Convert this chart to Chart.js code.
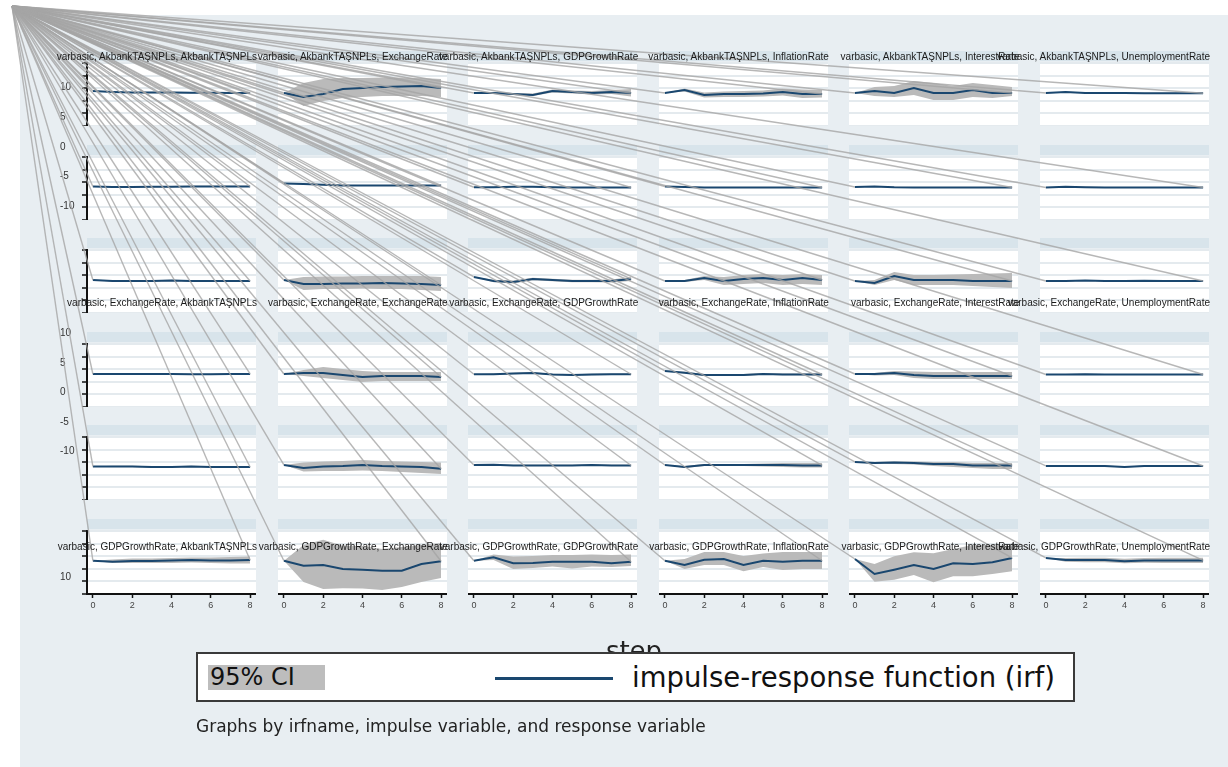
<!DOCTYPE html>
<html>
<head>
<meta charset="utf-8">
<script src="https://cdn.jsdelivr.net/npm/chart.js@4.4.1/dist/chart.umd.min.js"></script>
<style>
  html, body { margin: 0; padding: 0; background: #fff; }
  #page { position: relative; width: 1228px; height: 767px; overflow: hidden; background: #fff;
          font-family: "Liberation Sans", Arial, sans-serif; }
  #frame { position: absolute; left: 20px; top: 15px; right: 0; bottom: 0; background: #e8eef2; }
  canvas { position: absolute; }
  .ttl { position: absolute; font-size: 10px; line-height: 12px; color: #1a1a1a; white-space: nowrap; text-align: right; }
  #step { position: absolute; left: 584px; width: 100px; top: 638px; text-align: center;
          font-family: "DejaVu Sans", sans-serif; font-size: 26px; line-height: 26px; color: #222; }
  #legend { position: absolute; left: 196px; top: 652px; width: 875px; height: 46px;
            border: 2px solid #3a3a3a; background: #fff; }
  #ciKey { position: absolute; left: 10px; top: 11px; width: 117px; height: 25px; background: #bdbdbd; }
  #ciText { position: absolute; left: 12px; top: 9px; font-family: "DejaVu Sans", sans-serif;
            font-size: 24px; line-height: 28px; color: #111; white-space: nowrap; }
  #irfKey { position: absolute; left: 297px; top: 23px; width: 118px; height: 3px; background: #1a476f; }
  #irfText { position: absolute; left: 434px; top: 7px; font-family: "DejaVu Sans", sans-serif;
             font-size: 27.5px; line-height: 32px; color: #111; white-space: nowrap; }
  #note { position: absolute; left: 196px; top: 716px; font-family: "DejaVu Sans", sans-serif;
          font-size: 17px; line-height: 20px; color: #222; white-space: nowrap; }
</style>
</head>
<body>
<div id="page">
  <div id="frame"></div>
</div>
<script>
// ---- data -------------------------------------------------------------
const steps = [0, 1, 2, 3, 4, 5, 6, 7, 8];
const responseVars = ['AkbankTAŞNPLs', 'ExchangeRate', 'GDPGrowthRate', 'InflationRate', 'InterestRate', 'UnemploymentRate'];
const irfName = 'varbasic';
// impulse names printed above a panel row ('' = row printed without titles)
const rowImpulse = ['AkbankTAŞNPLs', '', '', 'ExchangeRate', '', 'GDPGrowthRate'];
const stepTicks = [0, 2, 4, 6, 8];
const leftTicksUpper = [10, 5, 0, -5, -10];
const leftTicksMiddle = [10, 5, 0, -5, -10];
const leftTicksLower = [10];

// row 1
const irf1 = [[0.28,0.2,0.15,0.15,0.15,0.13,0.13,0.12,0.12],[0.12,-0.2,0.04,0.44,0.52,0.6,0.63,0.67,0.52],[0.12,0.12,0.04,-0.04,0.28,0.2,0.12,0.2,0.12],[0.12,0.36,-0.04,0.04,0.04,0.08,0.2,0.04,0.04],[0.12,0.28,0.12,0.52,0.12,0.12,0.36,0.12,0.12],[0.12,0.2,0.12,0.12,0.12,0.1,0.1,0.1,0.1]];
const lo1  = [[0.28,0.15,0.1,0.09,0.09,0.07,0.07,0.06,0.06],[0.12,-0.91,-0.52,-0.28,-0.2,-0.12,-0.12,-0.12,-0.2],[0.12,0.08,-0.04,-0.12,0.16,0.08,0,0.04,-0.16],[0.12,0.24,-0.24,-0.2,-0.2,-0.16,-0.08,-0.28,-0.24],[0.12,-0.12,-0.2,-0.04,-0.44,-0.44,-0.2,-0.28,-0.12],[0.12,0.17,0.09,0.08,0.08,0.06,0.06,0.06,0.06]];
const hi1  = [[0.28,0.25,0.2,0.21,0.21,0.19,0.19,0.18,0.18],[0.12,0.91,1.23,1.31,1.31,1.35,1.35,1.31,1.23],[0.12,0.16,0.12,0.08,0.4,0.32,0.28,0.36,0.44],[0.12,0.48,0.16,0.24,0.28,0.32,0.48,0.4,0.36],[0.12,0.6,0.67,1.07,0.91,0.67,0.91,0.75,0.6],[0.12,0.23,0.15,0.16,0.16,0.14,0.14,0.14,0.14]];
// row 2
const irf2 = [[0.16,0.12,0.12,0.14,0.14,0.16,0.16,0.16,0.16],[0.4,0.36,0.3,0.24,0.24,0.24,0.24,0.24,0.24],[0.1,0.1,0.14,0.14,0.1,0.08,0.08,0.08,0.08],[0.16,0.12,0.08,0.08,0.08,0.08,0.08,0.08,0.08],[0.12,0.16,0.1,0.08,0.08,0.08,0.08,0.08,0.08],[0.08,0.14,0.1,0.08,0.08,0.08,0.08,0.08,0.08]];
const lo2  = [[0.16,0.08,0.07,0.09,0.09,0.11,0.11,0.11,0.11],[0.4,0.32,0.26,0.2,0.2,0.2,0.2,0.2,0.2],[0.1,0.06,0.1,0.1,0.06,0.04,0.04,0.04,0.04],[0.16,0.08,0.04,0.04,0.04,0.04,0.04,0.04,0.04],[0.12,0.12,0.06,0.04,0.04,0.04,0.04,0.04,0.04],[0.08,0.1,0.06,0.04,0.04,0.04,0.04,0.04,0.04]];
const hi2  = [[0.16,0.16,0.17,0.19,0.19,0.21,0.21,0.21,0.21],[0.4,0.4,0.34,0.28,0.28,0.28,0.28,0.28,0.28],[0.1,0.14,0.18,0.18,0.14,0.12,0.12,0.12,0.12],[0.16,0.16,0.12,0.12,0.12,0.12,0.12,0.12,0.12],[0.12,0.2,0.14,0.12,0.12,0.12,0.12,0.12,0.12],[0.08,0.18,0.14,0.12,0.12,0.12,0.12,0.12,0.12]];
// row 3
const irf3 = [[0.12,0.04,0.04,0.04,0.08,0.04,0.04,0.04,0.04],[0.12,-0.2,-0.2,-0.16,-0.16,-0.12,-0.16,-0.2,-0.28],[0.36,0.04,-0.04,0.2,0.12,0.04,0.04,0.04,0.2],[0.04,0.04,0.28,0.04,0.2,0.28,0.12,0.28,0.12],[0.04,-0.12,0.44,0.12,0.12,0.12,0.04,0.04,0.04],[0.04,0.04,0.08,0.04,0.04,0.06,0.04,0.04,0.04]];
const lo3  = [[0.12,-0.01,-0.01,-0.01,0.03,-0.01,-0.01,-0.01,-0.01],[0.12,-0.67,-0.6,-0.6,-0.56,-0.6,-0.6,-0.67,-0.75],[0.36,-0.06,-0.16,0.1,0.02,-0.06,-0.06,-0.08,0.04],[0.04,-0.04,0.12,-0.28,-0.2,-0.12,-0.28,-0.2,-0.28],[0.04,-0.28,0.12,-0.28,-0.28,-0.28,-0.36,-0.44,-0.52],[0.04,0,0.04,0,0,0.02,0,0,0]];
const hi3  = [[0.12,0.09,0.09,0.09,0.13,0.09,0.09,0.09,0.09],[0.12,0.36,0.4,0.4,0.44,0.44,0.44,0.44,0.36],[0.36,0.14,0.08,0.3,0.22,0.14,0.14,0.16,0.36],[0.04,0.12,0.44,0.36,0.52,0.6,0.52,0.6,0.52],[0.04,0.12,0.75,0.52,0.52,0.56,0.6,0.63,0.67],[0.04,0.08,0.12,0.08,0.08,0.1,0.08,0.08,0.08]];
// row 4
const irf4 = [[0.12,0.12,0.12,0.12,0.12,0.1,0.1,0.12,0.12],[0.12,0.2,0.2,0.04,-0.12,-0.04,-0.04,-0.04,-0.12],[0.1,0.1,0.16,0.2,0.08,0.04,0.08,0.1,0.1],[0.36,0.22,0.04,0.04,0.04,0.12,0.08,0.08,0.08],[0.12,0.12,0.2,0.04,-0.04,-0.04,-0.04,-0.04,-0.04],[0.08,0.08,0.1,0.08,0.08,0.08,0.08,0.08,0.08]];
const lo4  = [[0.12,0.08,0.08,0.08,0.08,0.06,0.06,0.08,0.08],[0.12,-0.04,-0.2,-0.36,-0.52,-0.44,-0.44,-0.44,-0.44],[0.1,0.04,0.1,0.14,0.02,-0.02,0.02,0.04,0.04],[0.36,0.15,-0.03,-0.03,-0.03,0.05,0.01,0.01,0.01],[0.12,0,0.04,-0.2,-0.28,-0.28,-0.28,-0.28,-0.28],[0.08,0.04,0.06,0.04,0.04,0.04,0.04,0.04,0.04]];
const hi4  = [[0.12,0.16,0.16,0.16,0.16,0.14,0.14,0.16,0.16],[0.12,0.44,0.67,0.52,0.36,0.28,0.28,0.28,0.28],[0.1,0.16,0.22,0.26,0.14,0.1,0.14,0.16,0.16],[0.36,0.29,0.11,0.11,0.11,0.19,0.15,0.15,0.15],[0.12,0.2,0.36,0.32,0.28,0.28,0.28,0.28,0.28],[0.08,0.12,0.14,0.12,0.12,0.12,0.12,0.12,0.12]];
// row 5
const irf5 = [[0.16,0.16,0.16,0.12,0.12,0.16,0.12,0.12,0.12],[0.28,0.04,0.16,0.2,0.28,0.2,0.16,0.12,-0.02],[0.28,0.3,0.24,0.24,0.24,0.24,0.28,0.24,0.24],[0.28,0.12,0.28,0.28,0.28,0.28,0.28,0.24,0.24],[0.52,0.44,0.48,0.44,0.36,0.36,0.24,0.24,0.24],[0.2,0.2,0.2,0.2,0.12,0.2,0.2,0.2,0.2]];
const lo5  = [[0.16,0.11,0.11,0.07,0.07,0.11,0.07,0.07,0.07],[0.28,-0.24,-0.2,-0.2,-0.16,-0.2,-0.28,-0.36,-0.44],[0.28,0.25,0.19,0.19,0.19,0.19,0.23,0.19,0.19],[0.28,0.04,0.2,0.2,0.2,0.16,0.12,0.08,0.08],[0.52,0.36,0.36,0.32,0.2,0.12,0.04,-0.04,-0.04],[0.2,0.16,0.16,0.16,0.08,0.16,0.16,0.16,0.16]];
const hi5  = [[0.16,0.21,0.21,0.17,0.17,0.21,0.17,0.17,0.17],[0.28,0.48,0.56,0.6,0.67,0.6,0.56,0.52,0.48],[0.28,0.35,0.29,0.29,0.29,0.29,0.33,0.29,0.29],[0.28,0.2,0.36,0.36,0.36,0.4,0.44,0.44,0.44],[0.52,0.52,0.56,0.56,0.52,0.52,0.44,0.44,0.44],[0.2,0.24,0.24,0.24,0.16,0.24,0.24,0.24,0.24]];
// row 6
const irf6 = [[0.14,0.06,0.12,0.12,0.16,0.2,0.16,0.16,0.2],[0.14,-0.25,-0.2,-0.52,-0.57,-0.65,-0.65,-0.12,0.1],[0.14,0.41,-0.06,-0.04,0.06,0.06,0.06,-0.06,0.06],[0.14,-0.2,0.22,0.28,-0.2,0.14,0.06,0.14,0.14],[0.28,-0.91,-0.57,-0.2,-0.52,-0.06,-0.12,0.02,0.36],[0.36,0.2,0.2,0.2,0.1,0.16,0.16,0.16,0.16]];
const lo6  = [[0.14,-0.04,-0.04,-0.04,-0.04,0,-0.04,-0.08,-0.08],[0.14,-1.55,-2.1,-2.05,-2.06,-2.18,-1.94,-1.55,-1.23],[0.14,0.2,-0.52,-0.44,-0.32,-0.48,-0.32,-0.36,-0.28],[0.14,-0.52,-0.2,-0.2,-0.69,-0.36,-0.6,-0.52,-0.52],[0.28,-1.52,-1.36,-0.99,-1.57,-1.1,-1.1,-0.91,-0.7],[0.36,0.06,0.02,0.02,-0.06,-0.02,-0.04,-0.04,-0.04]];
const hi6  = [[0.14,0.24,0.32,0.32,0.36,0.4,0.4,0.44,0.48],[0.14,1.39,1.81,1.33,1.31,1.07,1.23,1.39,1.55],[0.14,0.63,0.48,0.52,0.6,0.6,0.63,0.6,0.63],[0.14,0.28,0.83,0.83,0.52,0.71,0.83,0.83,0.83],[0.28,-0.12,0.49,0.81,0.73,1.07,1.39,1.39,1.29],[0.36,0.36,0.38,0.38,0.3,0.36,0.38,0.38,0.38]];

const irfRows = [irf1, irf2, irf3, irf4, irf5, irf6];
const loRows  = [lo1, lo2, lo3, lo4, lo5, lo6];
const hiRows  = [hi1, hi2, hi3, hi4, hi5, hi6];

// ---- layout & style ---------------------------------------------------
const PLOT_W = 169, PLOT_H = 63, BAND_GAP = 12, AXIS_H = 22;
const colLeft = c => 87 + c * 190.6;
const rowBandTop = r => 51 + r * 93.6;
const titleCenterY = [57, null, null, 303, null, 547];
const FAN_X = 12, FAN_Y = 6;
const bandColor = '#d8e4eb';
const ciColor = '#bababa';
const irfColor = '#1a476f';
const axisColor = '#111';
const gridColor = '#e4eaee';

const page = document.getElementById('page');

const panelBackground = {
  id: 'panelBackground',
  beforeDraw(chart) {
    const { ctx, chartArea: a } = chart;
    ctx.save();
    ctx.fillStyle = bandColor;
    ctx.fillRect(a.left, a.top - BAND_GAP, a.right - a.left, 10);
    ctx.fillStyle = '#ffffff';
    ctx.fillRect(a.left, a.top, a.right - a.left, a.bottom - a.top);
    ctx.restore();
  }
};

const toPoints = arr => steps.map((s, i) => ({ x: s, y: arr[i] }));
const noLabelPadding = s => { s.paddingTop = 0; s.paddingBottom = 0; s.paddingLeft = 0; s.paddingRight = 0; };

const panels = [];
for (let r = 0; r < 6; r++) {
  for (let c = 0; c < 6; c++) {
    const isLeft = c === 0, isBottom = r === 5;
    const yw = isLeft ? 6 : 0;
    const xh = isBottom ? AXIS_H : 0;
    const L = Math.round(colLeft(c)) - yw;
    const T = Math.round(rowBandTop(r));
    const cv = document.createElement('canvas');
    cv.width = PLOT_W + yw;
    cv.height = BAND_GAP + PLOT_H + xh;
    cv.style.left = L + 'px';
    cv.style.top = T + 'px';
    cv.style.width = cv.width + 'px';
    cv.style.height = cv.height + 'px';
    page.appendChild(cv);

    const chart = new Chart(cv, {
      type: 'line',
      data: {
        datasets: [
          { data: toPoints(loRows[r][c]), order: 2, borderWidth: 0, pointRadius: 0, fill: false, borderColor: 'rgba(0,0,0,0)' },
          { data: toPoints(hiRows[r][c]), order: 1, borderWidth: 0, pointRadius: 0, fill: '-1', backgroundColor: ciColor, borderColor: 'rgba(0,0,0,0)' },
          { data: toPoints(irfRows[r][c]), order: 0, borderWidth: 2, pointRadius: 0, fill: false, borderColor: irfColor, tension: 0 }
        ]
      },
      options: {
        responsive: false,
        animation: false,
        devicePixelRatio: 1,
        events: [],
        layout: { padding: { top: BAND_GAP, left: 0, right: 0, bottom: 0 }, autoPadding: false },
        plugins: { legend: { display: false }, tooltip: { enabled: false }, title: { display: false } },
        scales: {
          x: {
            type: 'linear', min: -0.3, max: 8.3, display: isBottom,
            afterBuildTicks: s => { s.ticks = stepTicks.map(v => ({ value: v })); },
            ticks: { includeBounds: false, font: { size: 9, family: 'Liberation Sans' }, color: '#444', padding: 2, maxRotation: 0 },
            grid: { drawOnChartArea: false, drawTicks: true, tickLength: 4, tickColor: axisColor, tickWidth: 1.5 },
            border: { display: true, color: axisColor, width: 2 },
            afterFit: s => { s.height = isBottom ? AXIS_H : 0; noLabelPadding(s); }
          },
          y: {
            min: -2.5, max: 2.5,
            ticks: { stepSize: 1, includeBounds: false, display: false },
            grid: { color: gridColor, lineWidth: 2, drawTicks: isLeft, tickLength: 5, tickColor: axisColor, tickWidth: 1.5 },
            border: { display: isLeft, color: axisColor, width: 2 },
            afterFit: s => { s.width = yw; noLabelPadding(s); }
          }
        }
      },
      plugins: [panelBackground]
    });
    panels.push({ chart, left: L, top: T, irf: irfRows[r][c] });
  }
}

// tick labels printed to the left of the first panel column
function leftLabels(top, height, values) {
  const cv = document.createElement('canvas');
  cv.width = 24; cv.height = Math.round(height);
  cv.style.left = '60px'; cv.style.top = Math.round(top) + 'px';
  cv.style.width = '24px'; cv.style.height = cv.height + 'px';
  page.appendChild(cv);
  new Chart(cv, {
    type: 'line',
    data: { datasets: [] },
    options: {
      responsive: false, animation: false, devicePixelRatio: 1, events: [],
      layout: { padding: 0, autoPadding: false },
      plugins: { legend: { display: false }, tooltip: { enabled: false } },
      scales: {
        x: { display: false, afterFit: s => { s.height = 0; noLabelPadding(s); } },
        y: {
          min: -15, max: 15,
          afterBuildTicks: s => { s.ticks = values.map(v => ({ value: v })); },
          ticks: { crossAlign: 'far', padding: 2, font: { size: 10, family: 'Liberation Sans' }, color: '#333' },
          grid: { display: false }, border: { display: false },
          afterFit: s => { s.width = 24; noLabelPadding(s); }
        }
      }
    }
  });
}
leftLabels(58.4, 177.8, leftTicksUpper);
leftLabels(303.5, 177, leftTicksMiddle);
leftLabels(547.5, 177, leftTicksLower);

// connector fan from the top-left corner to each panel's first and last response
const fanCanvas = document.createElement('canvas');
fanCanvas.width = 1228; fanCanvas.height = 767;
fanCanvas.style.left = '0px'; fanCanvas.style.top = '0px';
fanCanvas.style.width = '1228px'; fanCanvas.style.height = '767px';
page.appendChild(fanCanvas);
new Chart(fanCanvas, {
  type: 'scatter',
  data: { datasets: [] },
  options: {
    responsive: false, animation: false, devicePixelRatio: 1, events: [],
    plugins: { legend: { display: false }, tooltip: { enabled: false } },
    scales: { x: { display: false }, y: { display: false } }
  },
  plugins: [{
    id: 'fan',
    afterDraw(chart) {
      const ctx = chart.ctx;
      ctx.save();
      ctx.strokeStyle = 'rgba(165,165,165,0.8)';
      ctx.lineWidth = 1.4;
      panels.forEach(p => {
        const xs = p.chart.scales.x, ys = p.chart.scales.y;
        [0, steps.length - 1].forEach(i => {
          ctx.beginPath();
          ctx.moveTo(FAN_X, FAN_Y);
          ctx.lineTo(p.left + xs.getPixelForValue(steps[i]), p.top + ys.getPixelForValue(p.irf[i]));
          ctx.stroke();
        });
      });
      ctx.restore();
    }
  }]
});

// panel titles: irfname, impulse, response
rowImpulse.forEach((imp, r) => {
  if (!imp) return;
  responseVars.forEach((resp, c) => {
    const d = document.createElement('div');
    d.className = 'ttl';
    d.textContent = irfName + ', ' + imp + ', ' + resp;
    d.style.right = (1228 - (colLeft(c) + PLOT_W + 1)) + 'px';
    d.style.top = (titleCenterY[r] - 6) + 'px';
    page.appendChild(d);
  });
});

// x-axis title, legend and note
page.insertAdjacentHTML('beforeend',
  '<div id="step">step</div>' +
  '<div id="legend"><div id="ciKey"></div><div id="ciText">95% CI</div>' +
  '<div id="irfKey"></div><div id="irfText">impulse-response function (irf)</div></div>' +
  '<div id="note">Graphs by irfname, impulse variable, and response variable</div>');
</script>
</body>
</html>
